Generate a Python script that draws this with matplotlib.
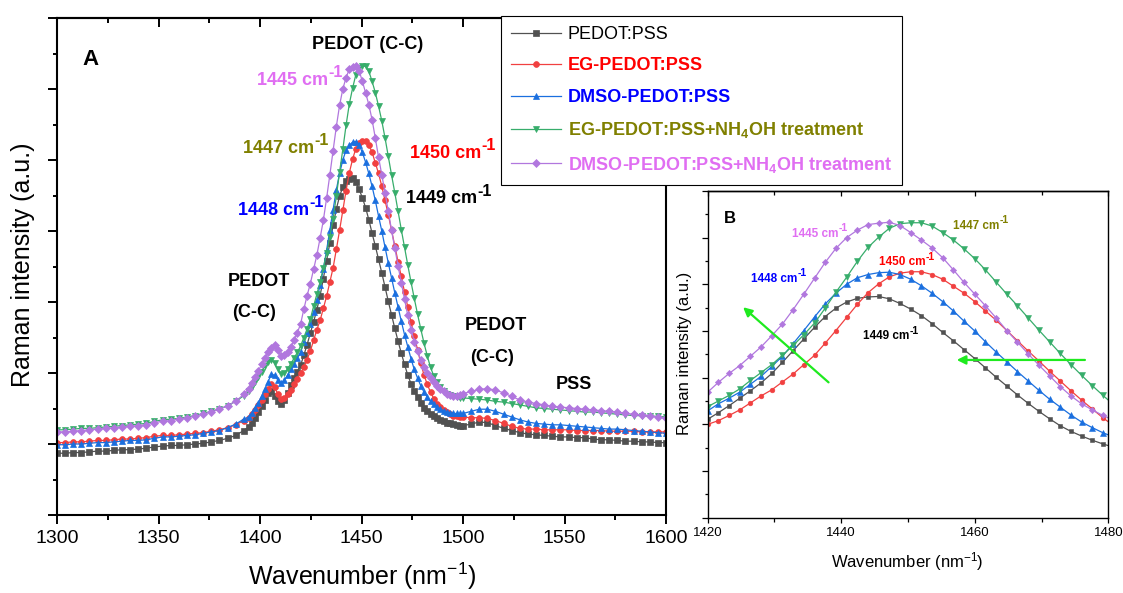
import numpy as np
import matplotlib
matplotlib.use('Agg')
import matplotlib.pyplot as plt
from matplotlib.ticker import MultipleLocator, NullFormatter

plt.rcParams['font.family'] = ['Liberation Sans', 'DejaVu Sans']
plt.rcParams['mathtext.default'] = 'regular'

# ---------------- data ----------------
wn_left = np.arange(1300, 1393, 4)                      # 1300 ... 1392
wn_mid = np.round(1394.4 + 1.6 * np.arange(67), 1)       # 1394.4 ... 1500.0
wn_right = np.arange(1504, 1601, 4)                     # 1504 ... 1600
wavenumber = np.concatenate([wn_left, wn_mid, wn_right])

pedot_pss = [
    0.87, 0.87, 0.88, 0.88, 0.89, 0.90, 0.90, 0.91, 0.92, 0.92, 0.93, 0.94,
    0.96, 0.97, 0.98, 0.98, 0.99, 1.00, 1.01, 1.03, 1.05, 1.08, 1.12, 1.19,
    1.24, 1.30, 1.37, 1.45, 1.53, 1.62, 1.72, 1.74, 1.68, 1.60, 1.56, 1.62,
    1.72, 1.83, 1.93, 2.02,
    2.11, 2.25, 2.40, 2.56, 2.72, 2.89, 3.09, 3.33, 3.58, 3.83, 4.08, 4.31,
    4.49, 4.62, 4.70, 4.73, 4.74, 4.69, 4.59, 4.47, 4.33, 4.16, 3.97, 3.79,
    3.60, 3.41, 3.21, 3.01, 2.82, 2.63, 2.45, 2.28, 2.12, 1.97, 1.85, 1.75,
    1.66, 1.58,
    1.51, 1.46, 1.42, 1.39, 1.37, 1.34, 1.32, 1.30, 1.29, 1.28, 1.27, 1.26, 1.26,
    1.28, 1.31, 1.30, 1.26, 1.22, 1.19, 1.16, 1.14, 1.13, 1.12, 1.11, 1.10,
    1.10, 1.09, 1.09, 1.07, 1.06, 1.06, 1.05, 1.04, 1.04, 1.03, 1.03, 1.02, 1.02,
]
eg_pedot = [
    1.02, 1.02, 1.03, 1.03, 1.04, 1.05, 1.05, 1.06, 1.07, 1.07, 1.08, 1.09,
    1.11, 1.12, 1.12, 1.13, 1.14, 1.15, 1.16, 1.18, 1.20, 1.23, 1.27, 1.33,
    1.37, 1.42, 1.48, 1.55, 1.62, 1.70, 1.78, 1.84, 1.80, 1.70, 1.63, 1.65,
    1.70, 1.76, 1.84, 1.92,
    2.00, 2.08, 2.19, 2.31, 2.46, 2.61, 2.74, 2.91, 3.08, 3.28, 3.48, 3.74,
    4.01, 4.29, 4.57, 4.82, 5.01, 5.16, 5.24, 5.27, 5.27, 5.21, 5.11, 4.96,
    4.81, 4.63, 4.43, 4.23, 4.01, 3.79, 3.57, 3.36, 3.14, 2.93, 2.72, 2.52,
    2.33, 2.14,
    1.97, 1.84, 1.73, 1.64, 1.57, 1.52, 1.48, 1.45, 1.42, 1.40, 1.39, 1.38, 1.38,
    1.37, 1.37, 1.36, 1.33, 1.29, 1.25, 1.22, 1.21, 1.21, 1.20, 1.20, 1.20,
    1.20, 1.19, 1.19, 1.19, 1.19, 1.18, 1.18, 1.18, 1.18, 1.17, 1.17, 1.17, 1.17,
]
dmso_pedot = [
    0.99, 0.99, 1.00, 1.00, 1.01, 1.02, 1.02, 1.03, 1.04, 1.05, 1.05, 1.06,
    1.08, 1.10, 1.10, 1.11, 1.12, 1.13, 1.15, 1.17, 1.19, 1.23, 1.28, 1.35,
    1.38, 1.44, 1.51, 1.58, 1.67, 1.77, 1.88, 1.98, 1.97, 1.90, 1.86, 1.90,
    1.97, 2.05, 2.13, 2.21,
    2.29, 2.44, 2.56, 2.69, 2.86, 3.03, 3.24, 3.46, 3.73, 4.01, 4.30, 4.58,
    4.81, 5.00, 5.14, 5.21, 5.25, 5.26, 5.21, 5.11, 4.97, 4.81, 4.63, 4.43,
    4.21, 4.00, 3.77, 3.55, 3.34, 3.13, 2.93, 2.73, 2.54, 2.37, 2.20, 2.05,
    1.93, 1.82,
    1.73, 1.66, 1.60, 1.56, 1.52, 1.49, 1.47, 1.45, 1.44, 1.43, 1.43, 1.43, 1.43,
    1.46, 1.49, 1.49, 1.46, 1.42, 1.38, 1.34, 1.31, 1.29, 1.28, 1.27, 1.27,
    1.26, 1.25, 1.24, 1.23, 1.22, 1.21, 1.21, 1.20, 1.19, 1.18, 1.17, 1.16, 1.15,
]
eg_nh4oh = [
    1.20, 1.20, 1.21, 1.22, 1.22, 1.23, 1.24, 1.25, 1.26, 1.27, 1.28, 1.29,
    1.32, 1.34, 1.35, 1.36, 1.38, 1.40, 1.43, 1.46, 1.49, 1.54, 1.60, 1.68,
    1.74, 1.80, 1.87, 1.94, 2.02, 2.10, 2.16, 2.19, 2.14, 2.05, 1.98, 2.00,
    2.06, 2.13, 2.21, 2.29,
    2.38, 2.50, 2.62, 2.76, 2.94, 3.11, 3.28, 3.48, 3.69, 3.92, 4.17, 4.49,
    4.83, 5.15, 5.49, 5.79, 6.01, 6.20, 6.30, 6.32, 6.32, 6.25, 6.11, 5.95,
    5.76, 5.55, 5.31, 5.05, 4.79, 4.54, 4.28, 4.02, 3.77, 3.52, 3.28, 3.05,
    2.83, 2.62,
    2.42, 2.24, 2.08, 1.96, 1.87, 1.80, 1.75, 1.71, 1.69, 1.67, 1.66, 1.65, 1.65,
    1.64, 1.63, 1.62, 1.60, 1.59, 1.57, 1.55, 1.53, 1.51, 1.50, 1.49, 1.48,
    1.47, 1.46, 1.45, 1.45, 1.44, 1.43, 1.42, 1.41, 1.40, 1.40, 1.39, 1.39, 1.38,
]
dmso_nh4oh = [
    1.17, 1.17, 1.18, 1.19, 1.20, 1.21, 1.22, 1.23, 1.24, 1.25, 1.26, 1.27,
    1.30, 1.32, 1.33, 1.35, 1.37, 1.39, 1.42, 1.45, 1.49, 1.54, 1.60, 1.70,
    1.78, 1.86, 1.94, 2.03, 2.12, 2.21, 2.29, 2.35, 2.39, 2.33, 2.24, 2.25,
    2.30, 2.37, 2.46, 2.57,
    2.69, 2.90, 3.09, 3.26, 3.46, 3.66, 3.90, 4.15, 4.46, 4.79, 5.13, 5.47,
    5.77, 6.00, 6.16, 6.28, 6.31, 6.33, 6.26, 6.11, 5.95, 5.78, 5.57, 5.31,
    5.04, 4.79, 4.54, 4.28, 4.01, 3.76, 3.51, 3.27, 3.04, 2.81, 2.61, 2.44,
    2.31, 2.19,
    2.09, 2.00, 1.93, 1.87, 1.82, 1.78, 1.74, 1.71, 1.69, 1.68, 1.68, 1.69, 1.71,
    1.74, 1.77, 1.78, 1.76, 1.72, 1.67, 1.62, 1.59, 1.57, 1.55, 1.53, 1.52,
    1.51, 1.50, 1.49, 1.48, 1.47, 1.46, 1.45, 1.43, 1.42, 1.41, 1.40, 1.38, 1.36,
]

series_names = ['PEDOT:PSS', 'EG-PEDOT:PSS', 'DMSO-PEDOT:PSS',
                'EG-PEDOT:PSS+NH$_4$OH treatment',
                'DMSO-PEDOT:PSS+NH$_4$OH treatment']
series_values = [pedot_pss, eg_pedot, dmso_pedot, eg_nh4oh, dmso_nh4oh]

# peak-position labels (value, unit written with a superscript "-1")
peak_values = ['1449', '1450', '1448', '1447', '1445']

# ---------------- style ----------------
line_colors = ['#515151', '#F14040', '#1A6FDF', '#37AD6B', '#B177DE']
text_colors = ['#000000', '#FF0000', '#0000FF', '#808000', '#E06EF2']
text_weights = ['normal', 'bold', 'bold', 'bold', 'bold']
markers = ['s', 'o', '^', 'v', 'D']
ms_a = [4.0, 4.2, 4.6, 4.6, 4.0]
ms_b = [3.2, 3.4, 3.8, 3.8, 3.2]

W, H = 1123, 593
fig = plt.figure(figsize=(W / 100, H / 100), dpi=100)
fig.patch.set_facecolor('white')

axA = fig.add_axes([57 / W, 1 - 515 / H, 609 / W, 497 / H])
axB = fig.add_axes([707.7 / W, 1 - 517.7 / H, 400.6 / W, 326.7 / H])

handles = []
for name, vals, c, m, ma, mb in zip(series_names, series_values, line_colors,
                                    markers, ms_a, ms_b):
    h, = axA.plot(wavenumber, vals, color=c, marker=m, ms=ma, lw=0.9,
                  mec=c, mfc=c, mew=0.5, label=name)
    axB.plot(wavenumber, vals, color=c, marker=m, ms=mb, lw=0.9,
             mec=c, mfc=c, mew=0.4)
    handles.append(h)


def peak_label(ax, x, y, value, color, size, sup_size):
    main = ax.text(x, y, value + ' cm', color=color, ha='left', va='baseline',
                   fontsize=size, fontweight='bold')
    ax.annotate('-1', xy=(1.0, 0.95), xycoords=main, ha='left', va='center',
                color=color, fontsize=sup_size, fontweight='bold')


# ---------------- panel A axes ----------------
axA.set_xlim(1300, 1600)
axA.set_ylim(0, 7)
axA.xaxis.set_major_locator(MultipleLocator(50))
axA.xaxis.set_minor_locator(MultipleLocator(25))
axA.yaxis.set_major_locator(MultipleLocator(1))
axA.yaxis.set_minor_locator(MultipleLocator(0.5))
axA.yaxis.set_major_formatter(NullFormatter())
for sp in axA.spines.values():
    sp.set_linewidth(1.5)
axA.tick_params(axis='x', which='major', direction='out', length=6.5, width=1.4,
                labelsize=14, pad=4, top=False)
axA.tick_params(axis='x', which='minor', direction='out', length=3.5, width=1.4,
                top=False)
axA.tick_params(axis='y', which='major', direction='out', length=6.2, width=1.4,
                right=False)
axA.tick_params(axis='y', which='minor', direction='out', length=3.2, width=1.4,
                right=False)
secA = axA.secondary_xaxis('top')
secA.xaxis.set_major_locator(MultipleLocator(50))
secA.xaxis.set_minor_locator(MultipleLocator(25))
secA.tick_params(axis='x', which='major', direction='in', length=6.5, width=1.4,
                 labeltop=False)
secA.tick_params(axis='x', which='minor', direction='in', length=3.5, width=1.4)
secA.spines['top'].set_linewidth(1.5)

axA.set_xlabel('Wavenumber (nm$^{-1}$)', fontsize=18)
axA.xaxis.label.set_va('baseline')
axA.xaxis.set_label_coords(0.501, -0.141)
axA.set_ylabel('Raman intensity (a.u.)', fontsize=18)
axA.yaxis.label.set_va('center')
axA.yaxis.set_label_coords(-0.056, 0.503)

tkw = dict(fontsize=13, fontweight='bold')
axA.text(1312.5, 6.34, 'A', fontsize=16, fontweight='bold', va='baseline')
axA.text(1453.1, 6.56, 'PEDOT (C-C)', ha='center', va='baseline', **tkw)
axA.text(1399.5, 3.23, 'PEDOT', ha='center', va='baseline', **tkw)
axA.text(1397.0, 2.79, '(C-C)', ha='center', va='baseline', **tkw)
axA.text(1516.3, 2.61, 'PEDOT', ha='center', va='baseline', **tkw)
axA.text(1514.5, 2.15, '(C-C)', ha='center', va='baseline', **tkw)
axA.text(1554.7, 1.77, 'PSS', ha='center', va='baseline', **tkw)

peak_pos_A = [(1471.9, 4.39), (1473.9, 5.03), (1389.2, 4.23),
              (1391.6, 5.10), (1398.5, 6.06)]
for val, (x, y), c in zip(peak_values, peak_pos_A, text_colors):
    peak_label(axA, x, y, val, c, 13, 11.5)

# ---------------- panel B axes ----------------
axB.set_xlim(1420, 1480)
axB.set_ylim(0, 7)
axB.xaxis.set_major_locator(MultipleLocator(20))
axB.xaxis.set_minor_locator(MultipleLocator(10))
axB.yaxis.set_major_locator(MultipleLocator(1))
axB.yaxis.set_minor_locator(MultipleLocator(0.5))
axB.yaxis.set_major_formatter(NullFormatter())
for sp in axB.spines.values():
    sp.set_linewidth(1.0)
axB.tick_params(axis='x', which='major', direction='out', length=3.5, width=0.9,
                labelsize=9.5, pad=3.5, top=False)
axB.tick_params(axis='x', which='minor', direction='out', length=3.0, width=0.9,
                top=False)
axB.tick_params(axis='y', which='major', direction='out', length=4.3, width=0.9,
                right=False)
axB.tick_params(axis='y', which='minor', direction='out', length=2.4, width=0.9,
                right=False)
secB = axB.secondary_xaxis('top')
secB.xaxis.set_major_locator(MultipleLocator(20))
secB.xaxis.set_minor_locator(MultipleLocator(10))
secB.tick_params(axis='x', which='major', direction='in', length=3.5, width=0.9,
                 labeltop=False)
secB.tick_params(axis='x', which='minor', direction='in', length=3.0, width=0.9)
secB.spines['top'].set_linewidth(1.0)

axB.set_xlabel('Wavenumber (nm$^{-1}$)', fontsize=12)
axB.xaxis.label.set_va('baseline')
axB.xaxis.set_label_coords(0.4975, -0.153)
axB.set_ylabel('Raman intensity (a.u.)', fontsize=12)
axB.yaxis.label.set_va('center')
axB.yaxis.set_label_coords(-0.057, 0.504)

axB.text(1422.4, 6.32, 'B', fontsize=12, fontweight='bold', va='baseline')
peak_pos_B = [(1443.3, 3.82), (1445.7, 5.41), (1426.5, 5.06),
              (1456.8, 6.19), (1432.6, 6.02)]
for val, (x, y), c in zip(peak_values, peak_pos_B, text_colors):
    peak_label(axB, x, y, val, c, 8.5, 7.5)

arrow_kw = dict(arrowstyle='-|>', color='#1FEA1F', lw=1.6, mutation_scale=13,
                shrinkA=0, shrinkB=0)
axB.annotate('', xy=(1425.3, 4.51), xytext=(1438.1, 2.90), arrowprops=arrow_kw)
axB.annotate('', xy=(1457.3, 3.38), xytext=(1476.5, 3.38), arrowprops=arrow_kw)

# ---------------- legend ----------------
leg = fig.legend(handles=handles, labels=series_names, loc='upper left',
                 bbox_to_anchor=(501 / W, 1 - 16 / H),
                 bbox_transform=fig.transFigure, frameon=True, fancybox=False,
                 edgecolor='black', framealpha=1, borderaxespad=0,
                 borderpad=0.55, handlelength=2.75, handletextpad=0.4,
                 labelspacing=0.8, numpoints=1, fontsize=13)
leg.get_frame().set_linewidth(0.8)
for t, c, wgt in zip(leg.get_texts(), text_colors, text_weights):
    t.set_color(c)
    t.set_fontweight(wgt)

fig.savefig('out.png', dpi=100)
